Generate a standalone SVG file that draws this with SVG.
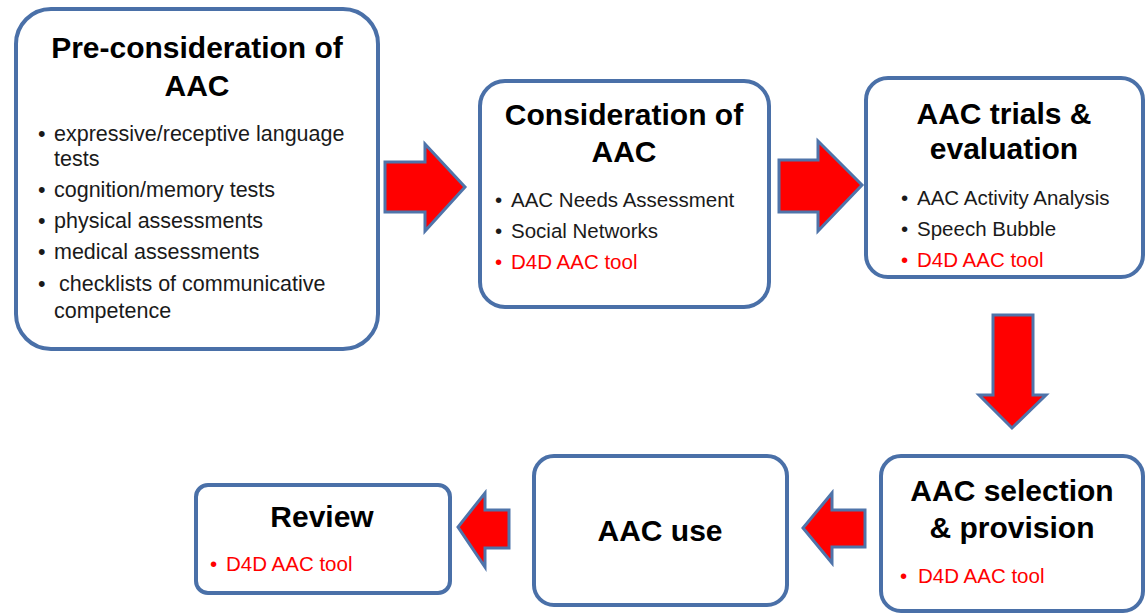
<svg xmlns="http://www.w3.org/2000/svg" width="1148" height="614" viewBox="0 0 1148 614">
<defs>
<style>
.box{fill:#ffffff;stroke:#4a70a8;stroke-width:4}
.arrow{fill:#ff0000;stroke:#4f74aa;stroke-width:3;stroke-linejoin:miter}
.title{font-family:"Liberation Sans",Arial,sans-serif;font-weight:bold;font-size:30px;fill:#000;text-anchor:middle}
.item{font-family:"Liberation Sans",Arial,sans-serif;font-size:20.5px;fill:#1a1a1a}
.big{font-size:21.5px}
.red{fill:#ff0000}
</style>
</defs>
<rect width="1148" height="614" fill="#ffffff"/>
<g id="connectors">
<polygon class="arrow" points="385,162 425,162 425,144 465,187 425,231 425,212 385,212"/>
<polygon class="arrow" points="779,160 818,160 818,141 862,185 818,231 818,212 779,212"/>
<polygon class="arrow" points="993,315 1033,315 1033,395 1046,395 1012,428 979,395 993,395"/>
<polygon class="arrow" points="865,510 832,510 832,493 803,528 832,563 832,547 865,547"/>
<polygon class="arrow" points="509,510 485,510 485,493 458,527 485,567 485,548 509,548"/>
</g>
<g id="node-preconsideration">
<rect class="box" x="16" y="9" width="362" height="340" rx="35" ry="35"/>
<text class="title" x="197" y="58">Pre-consideration of</text>
<text class="title" x="197" y="96">AAC</text>
<text class="item big" x="38" y="141">•</text><text class="item big" x="54" y="141">expressive/receptive language</text>
<text class="item big" x="54" y="166">tests</text>
<text class="item big" x="38" y="197">•</text><text class="item big" x="54" y="197">cognition/memory tests</text>
<text class="item big" x="38" y="228">•</text><text class="item big" x="54" y="228">physical assessments</text>
<text class="item big" x="38" y="259">•</text><text class="item big" x="54" y="259">medical assessments</text>
<text class="item big" x="38" y="291">•</text><text class="item big" x="59" y="291">checklists of communicative</text>
<text class="item big" x="54" y="318">competence</text>
</g>
<g id="node-consideration">
<rect class="box" x="480" y="81" width="289" height="226" rx="25" ry="25"/>
<text class="title" x="624" y="125">Consideration of</text>
<text class="title" x="624" y="162">AAC</text>
<text class="item" x="495" y="207">•</text><text class="item" x="511" y="207">AAC Needs Assessment</text>
<text class="item" x="495" y="238">•</text><text class="item" x="511" y="238">Social Networks</text>
<text class="item red" x="495" y="269">•</text><text class="item red" x="511" y="269">D4D AAC tool</text>
</g>
<g id="node-trials">
<rect class="box" x="866" y="78" width="277" height="199" rx="22" ry="22"/>
<text class="title" x="1004" y="124">AAC trials &amp;</text>
<text class="title" x="1004" y="159">evaluation</text>
<text class="item" x="901" y="205">•</text><text class="item" x="917" y="205">AAC Activity Analysis</text>
<text class="item" x="901" y="236">•</text><text class="item" x="917" y="236">Speech Bubble</text>
<text class="item red" x="901" y="267">•</text><text class="item red" x="917" y="267">D4D  AAC tool</text>
</g>
<g id="node-selection">
<rect class="box" x="881" y="456" width="262" height="155" rx="20" ry="20"/>
<text class="title" x="1012" y="501">AAC selection</text>
<text class="title" x="1012" y="538">&amp; provision</text>
<text class="item red" x="900" y="583">•</text><text class="item red" x="918" y="583">D4D AAC tool</text>
</g>
<g id="node-use">
<rect class="box" x="534" y="456" width="253" height="149" rx="20" ry="20"/>
<text class="title" x="660" y="541">AAC use</text>
</g>
<g id="node-review">
<rect class="box" x="196" y="485" width="254" height="108" rx="12" ry="12"/>
<text class="title" x="322" y="527">Review</text>
<text class="item red" x="210" y="571">•</text><text class="item red" x="226" y="571">D4D AAC tool</text>
</g>
</svg>
